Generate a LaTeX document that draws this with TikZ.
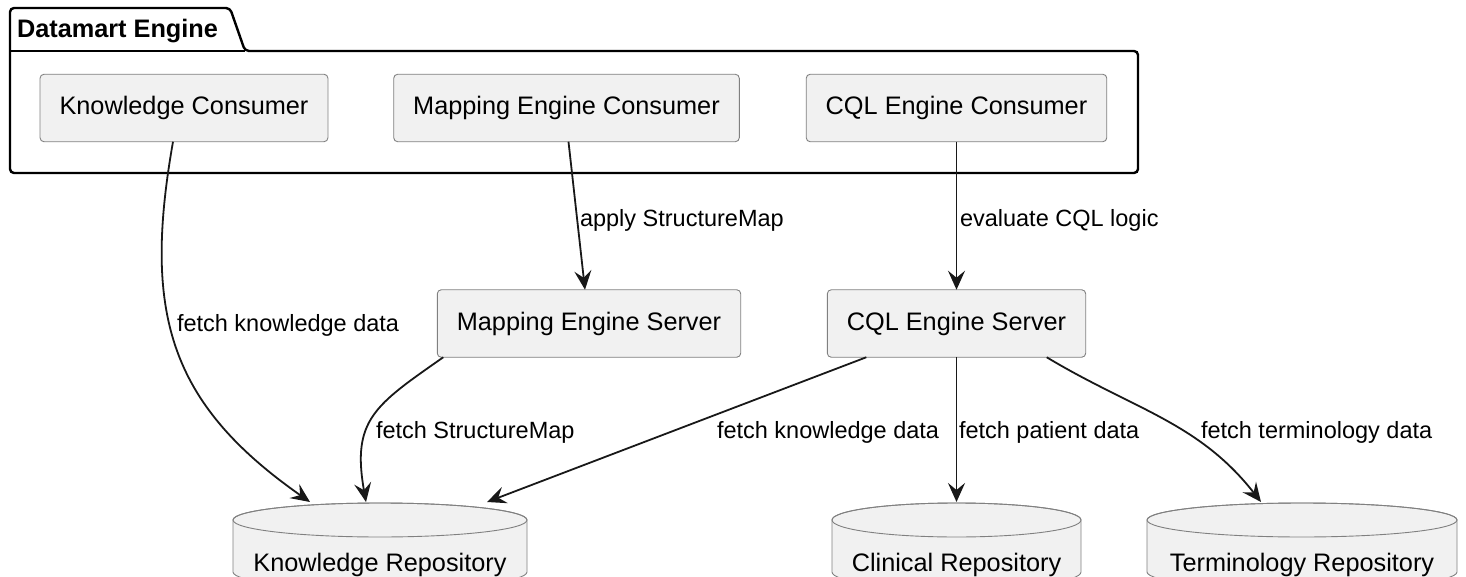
\documentclass[tikz,border=0pt]{standalone}
\usepackage{fontspec}
\setmainfont{Liberation Sans}
\usepackage{tikz}
\usetikzlibrary{arrows}
\usetikzlibrary{arrows.meta}
\definecolor{boxfill}{HTML}{F1F1F1}
\definecolor{linecol}{HTML}{181818}
\tikzstyle{base}=[x=1pt, y=1pt, inner sep=0pt, outer sep=0pt]
\tikzstyle{comp}=[draw=black!50, line width=0.9pt, fill=boxfill, rounded corners=4pt, minimum height=67.5pt, inner xsep=19.5pt, font=\fontsize{25.3}{30}\selectfont]
\tikzstyle{db}=[draw=black!50, line width=0.9pt, fill=boxfill]
\tikzstyle{dbtext}=[anchor=base, font=\fontsize{25.3}{30}\selectfont]
\tikzstyle{lbl}=[anchor=west, font=\fontsize{23.5}{28}\selectfont]
\tikzstyle{flow}=[draw=linecol, line width=1.8pt, -{Stealth[length=19pt, width=17pt, inset=7pt]}]
\tikzstyle{pkg}=[draw=black, line width=2.4pt, rounded corners=4pt]
\tikzstyle{pkgtitle}=[anchor=base west, font=\fontsize{25.3}{30}\selectfont\bfseries]
\newcommand{\dbcyl}[4]{%
        \filldraw[db] (#2-#3,-520) -- (#2-#3,-572) arc[start angle=180, end angle=360, x radius=#3, y radius=17] -- (#2+#3,-520) arc[start angle=0, end angle=180, x radius=#3, y radius=17] -- cycle;
        \draw[db, fill=none] (#2,-520) ellipse[x radius=#3, y radius=17];
        \coordinate (#1top) at (#2,-502);
        \node[dbtext] (#1) at (#2,-571) {#4};
}

\begin{document}
\begin{tikzpicture}[base]
        \path[use as bounding box] (0,0) rectangle (1466,-577);
        \clip (0,0) rectangle (1466,-577);
        \draw[pkg] (10,-51) -- (10,-8) -- (230,-8) -- (245,-51) -- (1138,-51) -- (1138,-173) -- (10,-173) -- cycle;
        \draw[pkg, rounded corners=0pt] (10,-51) -- (245,-51);
        \node[pkgtitle] (pkgname) at (17,-38) {Datamart Engine};
        \node[comp] (kc) at (184,-108) {Knowledge Consumer};
        \node[comp] (mec) at (566.5,-108) {Mapping Engine Consumer};
        \node[comp] (cec) at (956.5,-108) {CQL Engine Consumer};
        \node[comp] (mes) at (589,-323.5) {Mapping Engine Server};
        \node[comp] (ces) at (956.5,-323.5) {CQL Engine Server};
        \dbcyl{kr}{380}{147}{Knowledge Repository}
        \dbcyl{cr}{956.5}{124.5}{Clinical Repository}
        \dbcyl{tr}{1302}{155}{Terminology Repository}
        \draw[flow] ([xshift=-11pt]kc.south) to[out=-100, in=145, looseness=1.15] ([xshift=-70pt]krtop);
        \draw[flow] ([xshift=2pt]mec.south) -- ([xshift=-4pt]mes.north);
        \draw[flow] (cec.south) -- (ces.north);
        \draw[flow] ([xshift=6pt]mes.south west) to[out=-145, in=100, looseness=1.3] ([xshift=-14pt]krtop);
        \draw[flow] ([xshift=39pt]ces.south west) -- ([xshift=107pt]krtop);
        \draw[flow] (ces.south) -- (crtop);
        \draw[flow] ([xshift=-39pt]ces.south east) to[out=-31, in=128] ([xshift=-41pt]trtop);
        \node[lbl] (l1) at (177,-325) {fetch knowledge data};
        \node[lbl] (l2) at (580,-220) {apply StructureMap};
        \node[lbl] (l3) at (960,-220) {evaluate CQL logic};
        \node[lbl] (l4) at (376,-432) {fetch StructureMap};
        \node[lbl] (l5) at (717,-432) {fetch knowledge data};
        \node[lbl] (l6) at (959,-432) {fetch patient data};
        \node[lbl] (l7) at (1201,-432) {fetch terminology data};
    \end{tikzpicture}
\end{document}
